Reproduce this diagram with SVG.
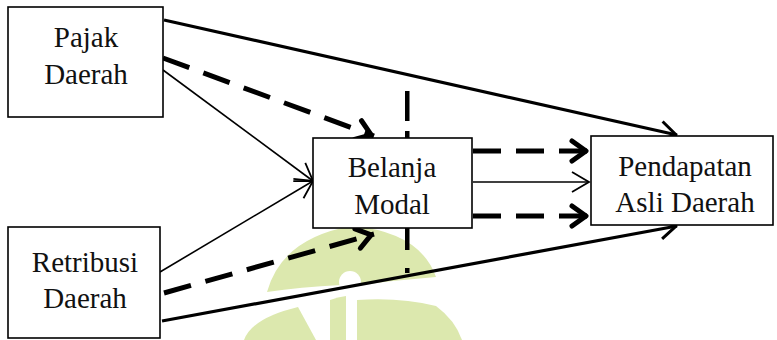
<svg xmlns="http://www.w3.org/2000/svg" width="777" height="340" viewBox="0 0 777 340">
  <style>
    .box { fill: #ffffff; stroke: #000000; stroke-width: 1.6; }
    .thin { fill: none; stroke: #000000; stroke-width: 1.6; }
    .solid { fill: none; stroke: #000000; stroke-width: 3.2; }
    .dash { fill: none; stroke: #000000; stroke-width: 5; stroke-dasharray: 28 15; }
    .vdash { fill: #000000; }
    .wm { fill: #dce8ae; }
  </style>
  <defs>
    <marker id="arrThin" viewBox="0 0 24 24" refX="20" refY="12" markerWidth="24" markerHeight="24" markerUnits="userSpaceOnUse" orient="auto">
      <path d="M3,2 L20,12 L3,22" fill="none" stroke="#000" stroke-width="1.8" stroke-dasharray="none"/>
    </marker>
    <marker id="arrSolid" viewBox="0 0 26 26" refX="22" refY="13" markerWidth="26" markerHeight="26" markerUnits="userSpaceOnUse" orient="auto">
      <path d="M5,3 L21,13 L5,23" fill="none" stroke="#000" stroke-width="3" stroke-linejoin="round" stroke-dasharray="none"/>
    </marker>
    <marker id="arrThick" viewBox="0 0 30 30" refX="25" refY="15" markerWidth="30" markerHeight="30" markerUnits="userSpaceOnUse" orient="auto">
      <path d="M8,5 L22,15 L8,25" fill="none" stroke="#000" stroke-width="5" stroke-linecap="round" stroke-linejoin="round" stroke-dasharray="none"/>
    </marker>
  </defs>

  <!-- faint emblem in the background -->
  <g id="emblem">
    <path class="wm" d="M267,292 Q282,238 352,226 Q420,232 436,277 Q398,280 360,285 L341,285 Q300,287 267,292 Z"/>
    <circle cx="350" cy="282" r="11" fill="#ffffff"/>
    <path class="wm" d="M244,340 Q252,318 298,307 L316,340 Z"/>
    <path class="wm" d="M330,340 L330,300 Q338,297 346,296 L346,340 Z"/>
    <path class="wm" d="M357,340 L357,300 Q400,297 436,306 Q455,320 462,340 Z"/>
  </g>

  <!-- connectors -->
  <g id="connectors">
    <!-- direct paths to Pendapatan Asli Daerah -->
    <line class="solid" x1="164" y1="20" x2="677" y2="135" marker-end="url(#arrSolid)"/>
    <line class="solid" x1="162" y1="321" x2="677" y2="226" marker-end="url(#arrSolid)"/>
    <!-- paths to Belanja Modal -->
    <line class="thin" x1="163" y1="70" x2="313" y2="181" marker-end="url(#arrThin)"/>
    <line class="thin" x1="160" y1="272" x2="313" y2="181" marker-end="url(#arrThin)"/>
    <line class="dash" x1="163" y1="58" x2="374" y2="136" marker-end="url(#arrThick)"/>
    <line class="dash" x1="164" y1="293" x2="374" y2="234" marker-end="url(#arrThick)"/>
    <!-- Belanja Modal to Pendapatan Asli Daerah -->
    <line class="dash" x1="473" y1="151" x2="589" y2="151" marker-end="url(#arrThick)"/>
    <line class="thin" x1="473" y1="182" x2="589" y2="182" marker-end="url(#arrThin)"/>
    <line class="dash" x1="473" y1="216" x2="589" y2="216" marker-end="url(#arrThick)"/>
    <!-- vertical divider -->
    <rect class="vdash" x="405" y="91" width="4.5" height="30"/>
    <rect class="vdash" x="405" y="131" width="4.5" height="8"/>
    <rect class="vdash" x="405" y="228" width="4.5" height="22"/>
    <rect class="vdash" x="405" y="268" width="4.5" height="5"/>
  </g>

  <g font-family="Liberation Serif, Times New Roman, serif" font-size="29" fill="#111111" text-anchor="middle">
    <g id="pajak-daerah">
      <rect class="box" x="8" y="7" width="155" height="110"/>
      <text x="86" y="47">Pajak</text>
      <text x="86" y="84">Daerah</text>
    </g>

    <g id="retribusi-daerah">
      <rect class="box" x="8" y="227" width="152" height="111"/>
      <text x="85" y="272">Retribusi</text>
      <text x="85" y="308">Daerah</text>
    </g>

    <g id="belanja-modal">
      <rect class="box" x="313" y="138" width="159" height="90"/>
      <text x="392" y="177">Belanja</text>
      <text x="392" y="214">Modal</text>
    </g>

    <g id="pendapatan-asli-daerah">
      <rect class="box" x="591" y="136" width="182" height="89"/>
      <text x="685" y="176">Pendapatan</text>
      <text x="685" y="212">Asli Daerah</text>
    </g>
  </g>
</svg>
